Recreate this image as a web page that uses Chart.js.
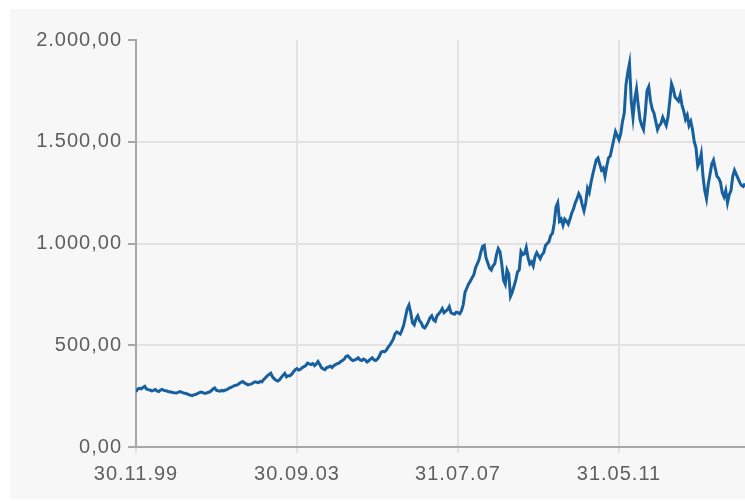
<!DOCTYPE html>
<html>
<head>
<meta charset="utf-8">
<script src="https://cdn.jsdelivr.net/npm/chart.js@4.4.1/dist/chart.umd.min.js"></script>
<style>
  html, body { margin: 0; padding: 0; background: #fff; overflow: hidden; }
  #wrap { position: absolute; left: 10px; top: 9px; width: 735px; height: 490px; background: #f7f7f7; }
</style>
</head>
<body>
<div id="wrap"><canvas id="myChart"></canvas></div>
<script>
  // months since 30.11.99: value at each month end
  const prices = [
    272, 288, 292, 285, 280, 278, 275, 280, 278, 274, 270, 266, 268, 270,
    264, 258, 252, 258, 266, 268, 264, 270, 285, 278, 274, 276,
    282, 292, 300, 305, 318, 315, 305, 310, 320, 316, 320, 340,
    356, 345, 328, 330, 352, 345, 350, 370, 385, 382, 395, 412,
    405, 400, 420, 390, 380, 393, 390, 405, 412, 425, 445, 440,
    425, 432, 428, 432, 418, 432, 428, 432, 465, 468, 490, 515,
    555, 560, 575, 640, 698, 610, 630, 620, 590, 598, 635, 625,
    645, 665, 660, 675, 660, 652, 660, 670, 760, 800, 830, 880,
    920, 985, 930, 880, 890, 945, 960, 820, 870, 740, 790, 860,
    960, 950, 930, 910, 935, 940, 945, 990, 1010, 1050, 1180, 1110,
    1090, 1110, 1120, 1170, 1220, 1228, 1160, 1270, 1300, 1376, 1420, 1361,
    1330, 1420, 1470, 1550, 1510, 1600, 1780, 1885, 1620, 1760, 1610, 1560,
    1750, 1700, 1640, 1560, 1590, 1600, 1620, 1785, 1720, 1700, 1680, 1610,
    1580, 1560, 1470, 1400, 1330, 1220, 1340, 1410, 1330, 1300, 1230, 1200,
    1260, 1360, 1320, 1285, 1295
  ];
  // mid-month values (between month i and i+1)
  const midPrices = [
    285, 286, 298, 282, 276, 282, 272, 283, 276, 271, 268, 265, 272, 266,
    262, 255, 256, 262, 270, 264, 268, 276, 290, 276, 278, 280,
    288, 296, 304, 312, 322, 310, 308, 316, 318, 322, 332, 350,
    362, 335, 324, 342, 362, 350, 358, 380, 378, 390, 400, 408,
    410, 408, 405, 384, 390, 398, 400, 410, 420, 432, 448, 430,
    428, 438, 425, 428, 424, 438, 425, 445, 470, 475, 500, 530,
    565, 555, 600, 680, 660, 600, 645, 610, 585, 615, 645, 618,
    655, 680, 668, 690, 655, 662, 655, 700, 780, 815, 845, 900,
    955, 990, 905, 870, 900, 975, 900, 800, 850, 760, 820, 870,
    945, 980, 900, 890, 955, 925, 955, 1000, 1040, 1100, 1200, 1120,
    1120, 1095, 1150, 1200, 1245, 1190, 1200, 1250, 1340, 1410, 1390, 1370,
    1380, 1430, 1510, 1530, 1540, 1640, 1840, 1700, 1710, 1680, 1580, 1640,
    1770, 1660, 1600, 1580, 1620, 1580, 1700, 1760, 1710, 1730, 1650, 1630,
    1600, 1500, 1380, 1440, 1260, 1290, 1390, 1370, 1320, 1250, 1260, 1240,
    1330, 1340, 1300, 1280
  ];
  const tickMonths = [0, 46, 92, 138];
  const tickLabels = ['30.11.99', '30.09.03', '31.07.07', '31.05.11'];
  const yTicks = [0, 500, 1000, 1500, 2000];

  const points = [];
  prices.forEach((v, i) => {
    points.push({ x: i, y: v });
    if (i < midPrices.length) points.push({ x: i + 0.5, y: midPrices[i] });
  });

  const fmt = (v) => {
    const s = Math.round(v).toString().replace(/\B(?=(\d{3})+(?!\d))/g, '.');
    return s + ',00';
  };

  const font = { family: 'Liberation Sans', size: 20 };

  // wider letter spacing like the original labels
  const spacing = {
    id: 'spacing',
    beforeLayout: (chart) => { chart.ctx.letterSpacing = '1px'; },
    beforeDraw: (chart) => { chart.ctx.letterSpacing = '1px'; }
  };

  const data = {
    datasets: [{
      data: points,
      borderColor: '#17609d',
      borderWidth: 3,
      pointRadius: 0,
      tension: 0,
      fill: false
    }]
  };

  const options = {
    responsive: true,
    maintainAspectRatio: false,
    animation: false,
    layout: { padding: { top: 31, right: 0, left: 0, bottom: 0 } },
    plugins: { legend: { display: false }, tooltip: { enabled: false } },
    scales: {
      x: {
        type: 'linear',
        min: 0,
        max: prices.length - 1,
        afterBuildTicks: (scale) => { scale.ticks = tickMonths.map(v => ({ value: v })); },
        afterFit: (scale) => { scale.height = 52; },
        ticks: {
          color: '#5f5f5f',
          font: font,
          padding: 9,
          maxRotation: 0,
          autoSkip: false,
          callback: (v) => tickLabels[tickMonths.indexOf(v)]
        },
        grid: { color: '#e2e2e2', lineWidth: 2, tickLength: 6, tickColor: '#e2e2e2' },
        border: { color: '#a8a8a8', width: 2 }
      },
      y: {
        min: 0,
        max: 2000,
        afterBuildTicks: (scale) => { scale.ticks = yTicks.map(v => ({ value: v })); },
        afterFit: (scale) => { scale.width = 126; },
        ticks: { color: '#5f5f5f', font: font, padding: 6, callback: (v) => fmt(v) },
        grid: {
          color: (ctx) => ctx.tick && ctx.tick.value === 2000 ? 'rgba(0,0,0,0)' : '#e2e2e2',
          lineWidth: 2,
          tickLength: 8,
          tickColor: '#a8a8a8'
        },
        border: { color: '#a8a8a8', width: 2 }
      }
    }
  };

  const myChart = new Chart(document.getElementById('myChart'), {
    type: 'line',
    data: data,
    options: options,
    plugins: [spacing]
  });
</script>
</body>
</html>
